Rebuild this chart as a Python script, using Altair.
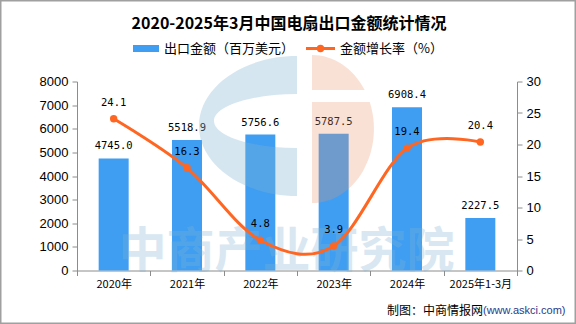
import altair as alt
import pandas as pd

categories = ["2020年", "2021年", "2022年", "2023年", "2024年", "2025年1-3月"]
export_value = [4745.0, 5518.9, 5756.6, 5787.5, 6908.4, 2227.5]
growth_rate = [24.1, 16.3, 4.8, 3.9, 19.4, 20.4]

title_text = "2020-2025年3月中国电扇出口金额统计情况"
legend_bar = "出口金额（百万美元）"
legend_line = "金额增长率（%）"
source_main = "制图：中商情报网"
source_url = "(www.askci.com)"
watermark = "中商产业研究院"

BLUE = "#3f9ef2"
ORANGE = "#ff6622"
W, H = 440, 189
PL, PT = 77, 81.5

df = pd.DataFrame({"cat": categories, "value": export_value, "rate": growth_rate})

x = alt.X("cat:N", sort=categories,
          scale=alt.Scale(paddingInner=0, paddingOuter=0),
          axis=alt.Axis(title=None, labelAngle=0, tickBand="extent", tickSize=5,
                        labelFont="Noto Sans CJK SC", labelFontSize=11, labelColor="#000",
                        labelPadding=3, domainColor="#8c8c8c", tickColor="#8c8c8c"))

y_left = alt.Y("value:Q", scale=alt.Scale(domain=[0, 8000]),
               axis=alt.Axis(orient="left", title=None, values=list(range(0, 8001, 1000)),
                             format="d", tickSize=5, grid=False, labelFont="Liberation Sans",
                             labelFontSize=13, labelColor="#000", labelPadding=4,
                             domainColor="#8c8c8c", tickColor="#8c8c8c"))
y_right = alt.Y("rate:Q", scale=alt.Scale(domain=[0, 30]),
                axis=alt.Axis(orient="right", title=None, values=list(range(0, 31, 5)),
                              format="d", tickSize=5, grid=False, labelFont="Liberation Sans",
                              labelFontSize=13, labelColor="#000", labelPadding=4,
                              domainColor="#8c8c8c", tickColor="#8c8c8c"))

base = alt.Chart(df)

bars = base.mark_bar(size=30, color=BLUE).encode(x=x, y=y_left)
bar_labels = base.mark_text(font="DejaVu Sans Mono", fontSize=10.5, color="#000",
                            baseline="alphabetic", dy=-9).encode(
    x=x, y=y_left, text=alt.Text("value:Q", format=".1f"))
left = alt.layer(bars, bar_labels)

# watermark (decorative, semi-transparent over bars)
logo_blue = "M220,-25.5 A98,70 0 1 0 220,114.5 L220,66.5 A83,27 0 1 1 220,12.5 Z"
logo_orange = ("M235,-26.5 A62,74 0 0 1 287.7,8.5 L235,8.5 Z "
               "M235,20.5 L292.7,20.5 A62,74 0 0 1 235,121.5 Z")
wm_df = pd.DataFrame({"t": [watermark]})
wm_blue = alt.Chart(wm_df).mark_point(shape=logo_blue, size=4, filled=True, fill="#7fb2d3",
                                      opacity=0.33, strokeWidth=0).encode(
    x=alt.value(0), y=alt.value(0))
wm_orange = alt.Chart(wm_df).mark_point(shape=logo_orange, size=4, filled=True, fill="#e8926a",
                                        opacity=0.28, strokeWidth=0).encode(
    x=alt.value(0), y=alt.value(0))
wm_text = alt.Chart(wm_df).mark_text(font="Noto Sans CJK SC", fontSize=48, fontWeight="bold",
                                     color="#7fb2d3", opacity=0.3, baseline="middle").encode(
    x=alt.value(286.5 - PL), y=alt.value(253 - PT), text="t:N")

line = base.mark_line(color=ORANGE, strokeWidth=3, interpolate="cardinal").encode(x=x, y=y_right)
points = base.mark_point(filled=True, color=ORANGE, size=55, opacity=1).encode(x=x, y=y_right)
line_labels = base.mark_text(font="DejaVu Sans Mono", fontSize=10.5, color="#000",
                             baseline="alphabetic", dy=-13).encode(
    x=x, y=y_right, text=alt.Text("rate:Q", format=".1f"))
right = alt.layer(line, points, line_labels)

one = pd.DataFrame({"a": [0]})
title = alt.Chart(pd.DataFrame({"t": [title_text]})).mark_text(
    font="Noto Sans CJK SC", fontSize=16, fontWeight="bold", color="#000", baseline="middle").encode(
    x=alt.value(289 - PL), y=alt.value(24 - PT), text="t:N")

leg_rect = alt.Chart(one).mark_rect(color=BLUE).encode(
    x=alt.value(133 - PL), x2=alt.value(159 - PL), y=alt.value(45 - PT), y2=alt.value(52 - PT))
leg_text1 = alt.Chart(pd.DataFrame({"t": [legend_bar]})).mark_text(
    font="Noto Sans CJK SC", fontSize=13, color="#000", align="left", baseline="middle").encode(
    x=alt.value(164 - PL), y=alt.value(48.5 - PT), text="t:N")
leg_line = alt.Chart(one).mark_rule(color=ORANGE, strokeWidth=3).encode(
    x=alt.value(306 - PL), x2=alt.value(335 - PL), y=alt.value(48.5 - PT))
leg_dot = alt.Chart(one).mark_point(filled=True, color=ORANGE, size=55, opacity=1).encode(
    x=alt.value(320.5 - PL), y=alt.value(48.5 - PT))
leg_text2 = alt.Chart(pd.DataFrame({"t": [legend_line]})).mark_text(
    font="Noto Sans CJK SC", fontSize=13, color="#000", align="left", baseline="middle").encode(
    x=alt.value(340 - PL), y=alt.value(48.5 - PT), text="t:N")

src1 = alt.Chart(pd.DataFrame({"t": [source_main]})).mark_text(
    font="Noto Sans CJK SC", fontSize=12, color="#000", align="right", baseline="middle").encode(
    x=alt.value(483 - PL), y=alt.value(311 - PT), text="t:N")
src2 = alt.Chart(pd.DataFrame({"t": [source_url]})).mark_text(
    font="Liberation Sans", fontSize=11, color="#1f3c8c", align="left", baseline="middle").encode(
    x=alt.value(483 - PL), y=alt.value(311 - PT), text="t:N")

border = alt.Chart(one).mark_rect(filled=False, stroke="#a0a0a0", strokeWidth=1.5).encode(
    x=alt.value(0.75 - PL), x2=alt.value(575.25 - PL), y=alt.value(0.75 - PT), y2=alt.value(323.25 - PT))

chart = alt.layer(
    left, wm_blue, wm_orange, wm_text, right,
    title, leg_rect, leg_text1, leg_line, leg_dot, leg_text2, src1, src2, border
).resolve_scale(y="independent").properties(
    width=W, height=H,
    autosize=alt.AutoSizeParams(type="none"),
    padding={"left": PL, "top": PT, "right": 576 - PL - W, "bottom": 324 - PT - H},
    background="white",
).configure_view(stroke=None)

chart.save("out.html", embed_options={"renderer": "svg", "actions": False})
